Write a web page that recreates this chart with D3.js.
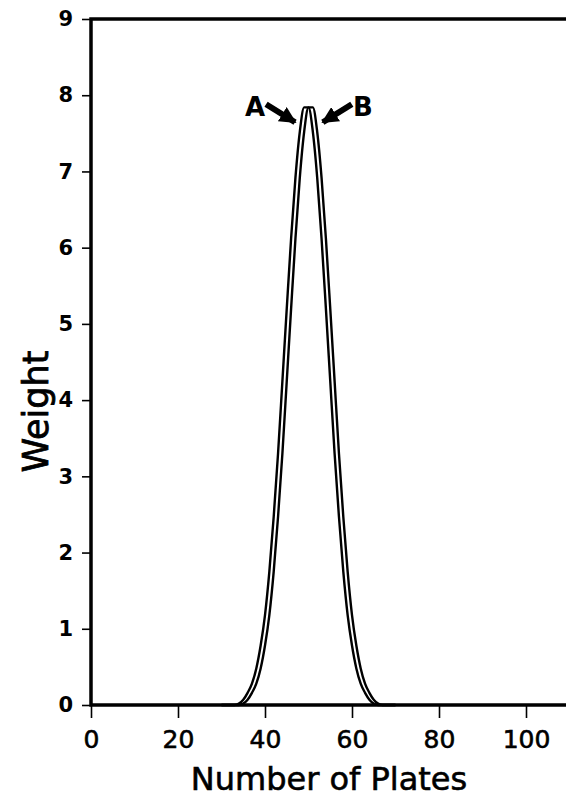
<!DOCTYPE html>
<html>
<head>
<meta charset="utf-8">
<script src="https://cdn.jsdelivr.net/npm/d3@7"></script>
<style>
  body { margin: 0; background: #fff; }
  svg { display: block; }
</style>
</head>
<body>
<div id="chart"></div>
<script>
// dados
const plates = d3.range(30, 71);
const weightA = [0, 0, 0, 0, 0.02, 0.07, 0.16, 0.28, 0.48, 0.78,
  1.18, 1.75, 2.47, 3.30, 4.25, 5.20, 6.12, 6.92, 7.52, 7.84,
  7.84, 7.52, 6.92, 6.12, 5.20, 4.25, 3.30, 2.47, 1.75, 1.18,
  0.78, 0.48, 0.28, 0.16, 0.07, 0.02, 0, 0, 0, 0, 0];
const weightB = [0, 0, 0, 0, 0, 0.02, 0.07, 0.16, 0.28, 0.48,
  0.78, 1.18, 1.75, 2.47, 3.30, 4.25, 5.20, 6.12, 6.92, 7.52,
  7.84, 7.84, 7.52, 6.92, 6.12, 5.20, 4.25, 3.30, 2.47, 1.75,
  1.18, 0.78, 0.48, 0.28, 0.16, 0.07, 0.02, 0, 0, 0, 0];
const xTicks = [0, 20, 40, 60, 80, 100];
const yTicks = [0, 1, 2, 3, 4, 5, 6, 7, 8, 9];
// rótulos A e B: ponta da seta em unidades de dados
const labels = [
  { name: "A", plate: 47.6, weight: 7.62, side: -1 },
  { name: "B", plate: 52.6, weight: 7.62, side: 1 }
];

const config = { width: 566, height: 801, left: 91, top: 19, plotW: 478.5, plotH: 686 };

const svg = d3.select("#chart").append("svg")
  .attr("width", config.width)
  .attr("height", config.height);

const xScale = d3.scaleLinear().domain([0, 110]).range([config.left, config.left + config.plotW]);
const yScale = d3.scaleLinear().domain([0, 9]).range([config.top + config.plotH, config.top]);

// eixos
const yAxis = d3.axisLeft(yScale).tickValues(yTicks).tickSize(9).tickPadding(9);
const xAxis = d3.axisBottom(xScale).tickValues(xTicks).tickSize(13).tickPadding(12);

const gy = svg.append("g")
  .attr("transform", `translate(${config.left},0)`)
  .call(yAxis);
gy.select(".domain").remove();
gy.selectAll(".tick line").attr("stroke", "#000").attr("stroke-width", 1.6);
gy.selectAll(".tick text")
  .attr("font-family", "DejaVu Sans, sans-serif")
  .attr("font-size", 21)
  .attr("font-weight", "bold")
  .attr("fill", "#000");

const gx = svg.append("g")
  .attr("transform", `translate(0,${yScale(0)})`)
  .call(xAxis);
gx.select(".domain").remove();
gx.selectAll(".tick line").attr("stroke", "#000").attr("stroke-width", 1.6);
gx.selectAll(".tick text")
  .attr("font-family", "DejaVu Sans, sans-serif")
  .attr("font-size", 25)
  .attr("fill", "#000")
  .attr("stroke", "#000")
  .attr("stroke-width", 0.6);

// moldura: esquerda, topo e base
const x0 = xScale(0), x1 = config.width, y0 = yScale(0), y9 = yScale(9);
svg.append("path")
  .attr("d", `M${x1},${y9}H${x0}V${y0}H${x1}`)
  .attr("fill", "none")
  .attr("stroke", "#000")
  .attr("stroke-width", 3.5);

// curvas
const line = d3.line()
  .x(d => xScale(d[0]))
  .y(d => yScale(d[1]))
  .curve(d3.curveMonotoneX);

[weightA, weightB].forEach(series => {
  svg.append("path")
    .datum(plates.map((p, i) => [p, series[i]]))
    .attr("d", line)
    .attr("fill", "none")
    .attr("stroke", "#000")
    .attr("stroke-width", 2.4);
});

// setas e rótulos
const defs = svg.append("defs");
defs.append("marker")
  .attr("id", "head")
  .attr("viewBox", "0 0 10 10")
  .attr("refX", 9).attr("refY", 5)
  .attr("markerWidth", 2.8).attr("markerHeight", 2.8)
  .attr("orient", "auto")
  .append("path")
  .attr("d", "M0,0L10,5L0,10Z")
  .attr("fill", "#000");

labels.forEach(l => {
  const tx = xScale(l.plate), ty = yScale(l.weight);
  svg.append("line")
    .attr("x1", tx + l.side * 32).attr("y1", ty - 20)
    .attr("x2", tx + l.side * 3).attr("y2", ty - 2)
    .attr("stroke", "#000")
    .attr("stroke-width", 6)
    .attr("marker-end", "url(#head)");
  svg.append("text")
    .attr("x", tx + l.side * 43)
    .attr("y", ty - 8)
    .attr("text-anchor", "middle")
    .attr("font-family", "DejaVu Sans, sans-serif")
    .attr("font-weight", "bold")
    .attr("font-size", 26)
    .text(l.name);
});

// títulos dos eixos
svg.append("text")
  .attr("transform", `translate(48,${yScale(3.85)}) rotate(-90)`)
  .attr("text-anchor", "middle")
  .attr("font-family", "DejaVu Sans, sans-serif")
  .attr("font-size", 35)
  .attr("stroke", "#000")
  .attr("stroke-width", 0.8)
  .text("Weight");

svg.append("text")
  .attr("x", 329)
  .attr("y", 790)
  .attr("text-anchor", "middle")
  .attr("font-family", "DejaVu Sans, sans-serif")
  .attr("font-size", 32)
  .attr("stroke", "#000")
  .attr("stroke-width", 0.6)
  .text("Number of Plates");
</script>
</body>
</html>
